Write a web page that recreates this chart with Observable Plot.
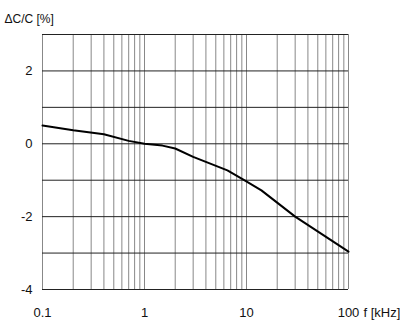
<!DOCTYPE html>
<html><head><meta charset="utf-8">
<script src="https://cdn.jsdelivr.net/npm/d3@7"></script>
<script src="https://cdn.jsdelivr.net/npm/@observablehq/plot@0.6"></script>
<style>body{margin:0;background:#fff}</style>
</head><body><div id="chart"></div>
<script>
const freq = [0.1, 0.2, 0.4, 0.7, 1, 1.5, 2, 3, 6.5, 9.5, 14, 30, 100];
const deltaC = [0.50, 0.37, 0.26, 0.08, 0.0, -0.05, -0.13, -0.36, -0.73, -1.0, -1.28, -2.0, -2.96];
const xTicks = [0.1, 1, 10, 100];
const xTickLabels = ["0.1", "1", "10", "100"];
const yTicks = [-4, -2, 0, 2];
const yTickLabels = ["-4", "-2", "0", "2"];
const yGrid = [-4, -3, -2, -1, 0, 1, 2, 3];
const yTitle = "ΔC/C [%]";
const xTitle = "f [kHz]";

const xGrid = [];
for (const d of [0.1, 1, 10]) for (let m = 1; m <= 9; m++) xGrid.push(+(d * m).toPrecision(3));
xGrid.push(100);
const data = freq.map((f, i) => ({f, v: deltaC[i]}));

const chart = Plot.plot({
  width: 400, height: 327,
  marginLeft: 42, marginTop: 34, marginRight: 52, marginBottom: 38,
  style: {fontFamily: "Liberation Sans, Arial, sans-serif", fontSize: "13px", color: "#111", background: "#fff"},
  x: {type: "log", domain: [0.1, 100], ticks: xTicks, tickFormat: d => xTickLabels[xTicks.indexOf(d)], tickSize: 0, tickPadding: 18, label: null},
  y: {domain: [-4, 3], ticks: yTicks, tickFormat: d => yTickLabels[yTicks.indexOf(d)], tickSize: 0, tickPadding: 10, label: null},
  marks: [
    Plot.ruleX(xGrid, {stroke: "#888", strokeWidth: 1}),
    Plot.ruleY(yGrid, {stroke: "#222", strokeWidth: 1}),
    Plot.line(data, {x: "f", y: "v", stroke: "#000", strokeWidth: 2}),
    Plot.text([yTitle], {frameAnchor: "top-left", dx: -38, dy: -20, textAnchor: "start", fontSize: 12}),
    Plot.text([xTitle], {frameAnchor: "bottom-right", dx: 15, dy: 27, textAnchor: "start", fontSize: 13})
  ]
});
document.getElementById("chart").append(chart);
</script></body></html>
